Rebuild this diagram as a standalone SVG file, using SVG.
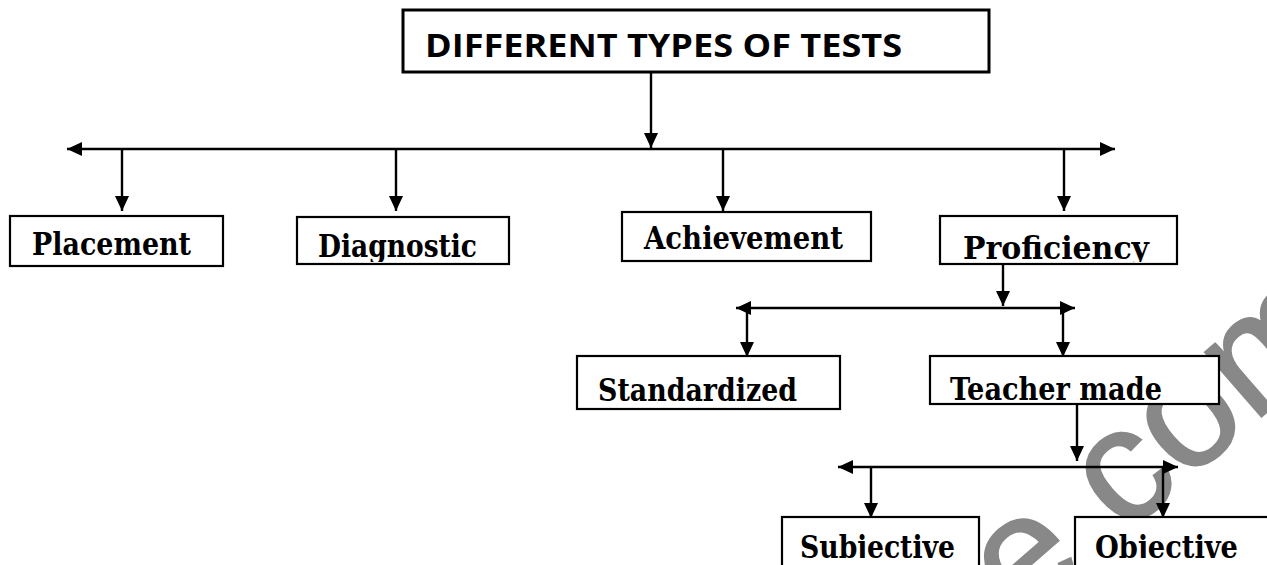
<svg xmlns="http://www.w3.org/2000/svg" width="1267" height="565" viewBox="0 0 1267 565">
<style>
.box{fill:#fff;stroke:#000;stroke-width:2.2}
.lbl{font-family:"DejaVu Serif","Liberation Serif",serif;font-weight:bold;font-size:31px;fill:#000}
.title{font-family:"Open Sans","Liberation Sans",sans-serif;font-weight:bold;font-size:33px;fill:#000}
.con{stroke:#000;stroke-width:2.4;fill:none}
.wm{font-family:"Liberation Sans",Arial,sans-serif;font-size:162px;fill:#888;stroke:#888;stroke-width:2}
</style>
<defs>
<marker id="ah" viewBox="0 0 15 14" refX="15" refY="7" markerWidth="15" markerHeight="14" markerUnits="userSpaceOnUse" orient="auto-start-reverse">
<path d="M0,0 L15,7 L0,14 z" fill="#000"/>
</marker>
<clipPath id="cDiag"><rect x="297" y="217" width="212" height="45"/></clipPath>
<clipPath id="cProf"><rect x="940" y="216" width="237" height="46"/></clipPath>
<clipPath id="cSubj"><rect x="782" y="517" width="197" height="41"/></clipPath>
<clipPath id="cObj"><rect x="1075" y="517" width="192" height="41"/></clipPath>
</defs>
<rect width="1267" height="565" fill="#fff"/>
<g id="watermark">
<text class="wm" transform="translate(1022,625) rotate(-41)">e.com</text>
</g>
<g id="connectors">
<line class="con" x1="651" y1="72" x2="651" y2="148" marker-end="url(#ah)"/>
<line class="con" x1="67" y1="149" x2="1115" y2="149" marker-start="url(#ah)" marker-end="url(#ah)"/>
<line class="con" x1="122" y1="149" x2="122" y2="211" marker-end="url(#ah)"/>
<line class="con" x1="396" y1="149" x2="396" y2="211" marker-end="url(#ah)"/>
<line class="con" x1="723" y1="149" x2="723" y2="211" marker-end="url(#ah)"/>
<line class="con" x1="1064" y1="149" x2="1064" y2="211" marker-end="url(#ah)"/>
<line class="con" x1="1003" y1="264" x2="1003" y2="306" marker-end="url(#ah)"/>
<line class="con" x1="736" y1="308" x2="1075" y2="308" marker-start="url(#ah)" marker-end="url(#ah)"/>
<line class="con" x1="747" y1="308" x2="747" y2="357" marker-end="url(#ah)"/>
<line class="con" x1="1063" y1="308" x2="1063" y2="357" marker-end="url(#ah)"/>
<line class="con" x1="1077" y1="404" x2="1077" y2="461" marker-end="url(#ah)"/>
<line class="con" x1="838" y1="467" x2="1178" y2="467" marker-start="url(#ah)" marker-end="url(#ah)"/>
<line class="con" x1="871" y1="467" x2="871" y2="518" marker-end="url(#ah)"/>
<line class="con" x1="1163" y1="467" x2="1163" y2="518" marker-end="url(#ah)"/>
</g>
<g id="title">
<rect x="403" y="10" width="586" height="62" fill="#fff" stroke="#000" stroke-width="3"/>
<text class="title" x="425" y="57" textLength="477" lengthAdjust="spacingAndGlyphs">DIFFERENT TYPES OF TESTS</text>
</g>
<g id="placement">
<rect class="box" x="10" y="216" width="213" height="50"/>
<text class="lbl" x="32" y="255" textLength="159" lengthAdjust="spacingAndGlyphs">Placement</text>
</g>
<g id="diagnostic">
<rect class="box" x="297" y="217" width="212" height="47"/>
<text class="lbl" x="318" y="257" textLength="159" lengthAdjust="spacingAndGlyphs" clip-path="url(#cDiag)">Diagnostic</text>
</g>
<g id="achievement">
<rect class="box" x="622" y="212" width="249" height="49"/>
<text class="lbl" x="644" y="249" textLength="199" lengthAdjust="spacingAndGlyphs">Achievement</text>
</g>
<g id="proficiency">
<rect class="box" x="940" y="216" width="237" height="48"/>
<text class="lbl" x="963" y="259" textLength="186" lengthAdjust="spacingAndGlyphs" clip-path="url(#cProf)">Proficiency</text>
</g>
<g id="standardized">
<rect class="box" x="577" y="356" width="263" height="53"/>
<text class="lbl" x="598" y="401" textLength="199" lengthAdjust="spacingAndGlyphs">Standardized</text>
</g>
<g id="teacher-made">
<rect class="box" x="930" y="356" width="289" height="48"/>
<text class="lbl" x="950" y="400" textLength="212" lengthAdjust="spacingAndGlyphs">Teacher made</text>
</g>
<g id="subjective">
<rect class="box" x="782" y="517" width="197" height="60"/>
<text class="lbl" x="800" y="558" textLength="155" lengthAdjust="spacingAndGlyphs" clip-path="url(#cSubj)">Subjective</text>
</g>
<g id="objective">
<rect class="box" x="1075" y="517" width="200" height="60"/>
<text class="lbl" x="1095" y="558" textLength="143" lengthAdjust="spacingAndGlyphs" clip-path="url(#cObj)">Objective</text>
</g>
</svg>
